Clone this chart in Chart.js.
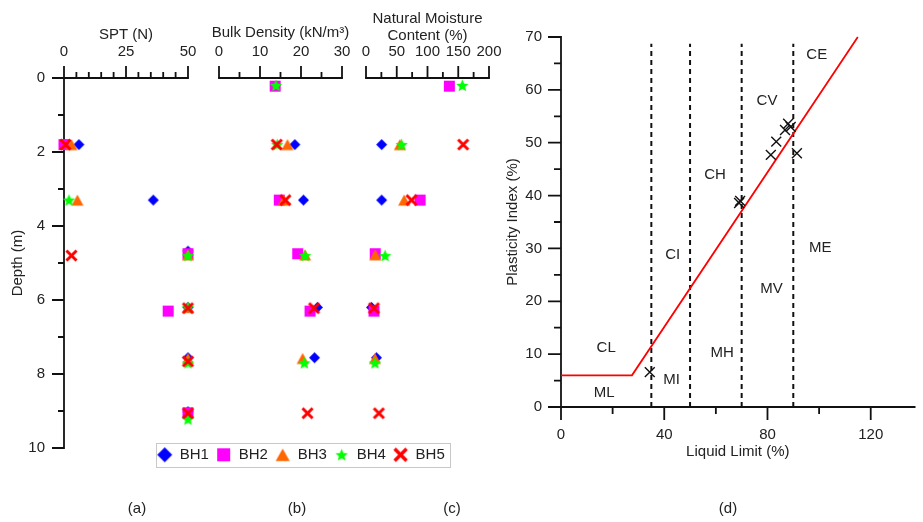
<!DOCTYPE html>
<html><head><meta charset="utf-8">
<script src="https://cdn.jsdelivr.net/npm/chart.js@4.4.1/dist/chart.umd.min.js"></script>
<style>
html,body{margin:0;padding:0;background:#fff;}
#wrap{position:relative;width:923px;height:522px;overflow:hidden;font-family:"Liberation Sans",Arial,sans-serif;background:#fff;}
#wrap canvas.full{position:absolute;left:0;top:0;}
.plab{position:absolute;top:498px;font-size:15px;color:#222;width:40px;text-align:center;line-height:20px;}
</style></head>
<body><div id="wrap">
<canvas id="ca" class="full" width="923" height="522"></canvas>
<canvas id="cb" class="full" width="923" height="522"></canvas>
<canvas id="cc" class="full" width="923" height="522"></canvas>
<canvas id="cd" class="full" width="923" height="522"></canvas>
<canvas id="cl" width="310" height="64" style="position:absolute;left:146px;top:440px;"></canvas>
<div class="plab" style="left:117px">(a)</div>
<div class="plab" style="left:277px">(b)</div>
<div class="plab" style="left:432px">(c)</div>
<div class="plab" style="left:708px">(d)</div>
</div>
<script>
// ---------------- DATA ----------------
const boreholes = ['BH1', 'BH2', 'BH3', 'BH4', 'BH5'];

const depthBH1 = [1.8, 3.3, 4.68, 6.2, 7.56, 9.02];
const sptBH1 = [6, 36, 50, 50, 50, 50];
const densityBH1 = [18.5, 20.6, null, 24.0, 23.3, null];
const moistureBH1 = [25.5, 25.5, null, 9, 17, null];

const depthBH2 = [0.22, 1.8, 3.3, 4.75, 6.3, 9.05];
const sptBH2 = [null, 0, null, 50, 42, 50];
const densityBH2 = [13.7, null, 14.7, 19.2, 22.2, null];
const moistureBH2 = [135.5, null, 88, 15, 13, null];

const depthBH3 = [1.8, 3.3, 4.78, 6.2, 7.58];
const sptBH3 = [3, 5.4, 50, 50, 50];
const densityBH3 = [16.7, 15.8, 21, null, 20.4];
const moistureBH3 = [55, 62, 15, null, 14.6];

const depthBH4 = [0.2, 1.8, 3.3, 4.8, 6.2, 7.7, 9.22];
const sptBH4 = [null, null, 2, 50, 50, 50, 50];
const densityBH4 = [13.9, 14.2, null, 21, null, 20.8, null];
const moistureBH4 = [156.6, 58, null, 31, null, 14.6, null];

const depthBH5 = [1.8, 3.3, 4.8, 6.22, 7.66, 9.06];
const sptBH5 = [0.6, null, 3, 50, 50, 50];
const densityBH5 = [14.1, 16.2, null, 23.2, null, 21.6];
const moistureBH5 = [158, 74, null, 13, null, 21];

const liquidLimit = [34.4, 69.0, 69.4, 81.3, 83.4, 86.8, 88.0, 89.0, 91.4];
const plasticityIndex = [6.6, 38.6, 39.0, 47.7, 50.2, 52.4, 53.6, 53.0, 48.0];

const aLineLL = [0, 27.5, 115];
const aLinePI = [6, 6, 70];
const zoneBoundsLL = [35, 50, 70, 90];
const zoneBoundTopPI = 68.7;

const zoneNames = ['CL', 'ML', 'MI', 'CI', 'CH', 'MH', 'CV', 'MV', 'CE', 'ME'];
const zoneNameLL = [17.5, 16.7, 42.8, 43.3, 59.7, 62.4, 79.8, 81.6, 99.1, 100.4];
const zoneNamePI = [11.1, 2.6, 5.2, 28.7, 43.9, 10.2, 57.9, 22.3, 66.7, 30.1];

// ---------------- STYLE ----------------
const FONT = '"Liberation Sans", Arial, sans-serif';
Chart.defaults.font.family = FONT;
Chart.defaults.font.size = 15;
Chart.defaults.color = '#222';

const bhColors = ['#0000FF', '#FF00FF', '#FF6600', '#00FF00', '#FF0000'];
const bhShapes = ['diamond', 'square', 'triangle', 'star', 'cross'];
const plotSizes = [11, 11, 12, 13, 11];
const legendSizes = [15, 13, 14, 13, 13];

function makeMarker(shape, color, size) {
  const pad = 3;
  const dim = Math.ceil(size + pad * 2);
  const c = document.createElement('canvas');
  c.width = dim; c.height = dim;
  const g = c.getContext('2d');
  const cx = dim / 2, cy = dim / 2, r = size / 2;
  g.fillStyle = color; g.strokeStyle = color;
  g.beginPath();
  if (shape === 'diamond') {
    g.moveTo(cx, cy - r); g.lineTo(cx + r, cy); g.lineTo(cx, cy + r); g.lineTo(cx - r, cy); g.closePath(); g.fill();
  } else if (shape === 'square') {
    g.fillRect(cx - r, cy - r, size, size);
  } else if (shape === 'triangle') {
    const h = size * 0.9;
    g.moveTo(cx, cy - h / 2); g.lineTo(cx + r, cy + h / 2); g.lineTo(cx - r, cy + h / 2); g.closePath(); g.fill();
  } else if (shape === 'star') {
    const ri = r * 0.45;
    for (let i = 0; i < 10; i++) {
      const rad = (i % 2 === 0) ? r : ri;
      const ang = -Math.PI / 2 + i * Math.PI / 5;
      const px = cx + rad * Math.cos(ang), py = cy + 0.5 + rad * Math.sin(ang);
      if (i === 0) g.moveTo(px, py); else g.lineTo(px, py);
    }
    g.closePath(); g.fill();
  } else if (shape === 'cross') {
    g.lineWidth = size * 0.27;
    g.lineCap = 'butt';
    const q = r * 0.92;
    g.moveTo(cx - q, cy - q); g.lineTo(cx + q, cy + q);
    g.moveTo(cx + q, cy - q); g.lineTo(cx - q, cy + q);
    g.stroke();
  }
  return c;
}
const plotMarkers = bhShapes.map((s, i) => makeMarker(s, bhColors[i], plotSizes[i]));
const legendMarkers = bhShapes.map((s, i) => makeMarker(s, bhColors[i], legendSizes[i]));

const depthSets = [depthBH1, depthBH2, depthBH3, depthBH4, depthBH5];
const sptSets = [sptBH1, sptBH2, sptBH3, sptBH4, sptBH5];
const densitySets = [densityBH1, densityBH2, densityBH3, densityBH4, densityBH5];
const moistureSets = [moistureBH1, moistureBH2, moistureBH3, moistureBH4, moistureBH5];

function depthDatasets(valueSets) {
  return boreholes.map((name, i) => ({
    label: name,
    data: depthSets[i].map((d, k) => ({ x: valueSets[i][k], y: d })).filter(p => p.x !== null),
    pointStyle: plotMarkers[i],
    backgroundColor: bhColors[i],
    borderColor: bhColors[i],
    clip: false,
    order: 4 - i
  }));
}

// draws axis lines and major/minor tick marks using the chart scales
const axisPlugin = {
  id: 'axisDraw',
  beforeDatasetsDraw(chart, args, opts) {
    const ctx = chart.ctx, a = chart.chartArea;
    ctx.save();
    ctx.strokeStyle = '#111';
    ctx.lineWidth = 1.8;
    for (const key of ['x', 'y']) {
      const o = opts[key];
      if (!o) continue;
      const s = chart.scales[key];
      const horiz = key === 'x';
      const base = horiz ? (o.side === 'top' ? a.top : a.bottom) : a.left;
      ctx.beginPath();
      const p0 = s.getPixelForValue(o.from), p1 = s.getPixelForValue(o.to);
      if (horiz) { ctx.moveTo(Math.min(p0, p1) - 0.9, base); ctx.lineTo(Math.max(p0, p1) + 0.9, base); }
      else { ctx.moveTo(base, Math.min(p0, p1) - 0.9); ctx.lineTo(base, Math.max(p0, p1) + 0.9); }
      ctx.stroke();
      const n = Math.floor((o.to - o.from) / o.minor + 1e-9);
      ctx.beginPath();
      for (let i = 0; i <= n; i++) {
        const v = o.from + i * o.minor;
        const q = v / o.major;
        const len = Math.abs(q - Math.round(q)) < 1e-6 ? o.majorLen : o.minorLen;
        const p = s.getPixelForValue(v);
        if (horiz) {
          const dir = o.side === 'top' ? -1 : 1;
          ctx.moveTo(p, base); ctx.lineTo(p, base + dir * len);
        } else {
          ctx.moveTo(base, p); ctx.lineTo(base - len, p);
        }
      }
      ctx.stroke();
    }
    if (opts.title) {
      ctx.font = '15px ' + FONT;
      ctx.fillStyle = '#222';
      ctx.textAlign = 'center';
      ctx.textBaseline = 'middle';
      ctx.fillText(opts.title, (a.left + a.right) / 2, opts.titleY);
    }
    ctx.restore();
  }
};

function depthChart(id, valueSets, xOpts, pad, showY) {
  return new Chart(document.getElementById(id), {
    type: 'scatter',
    data: { datasets: depthDatasets(valueSets) },
    options: {
      responsive: false, animation: false, devicePixelRatio: 1, events: [],
      layout: { padding: pad },
      plugins: {
        legend: { display: false }, tooltip: { enabled: false },
        axisDraw: {
          x: { side: 'top', from: xOpts.min, to: xOpts.max, minor: xOpts.minor, major: xOpts.major, majorLen: 12, minorLen: 6 },
          y: showY ? { from: 0, to: 10, minor: 1, major: 2, majorLen: 12, minorLen: 6 } : null,
          title: xOpts.freeTitle || null, titleY: 33
        }
      },
      scales: {
        x: {
          type: 'linear', position: 'top', min: xOpts.min, max: xOpts.max,
          grid: { display: false, drawTicks: true, tickLength: 12 },
          border: { display: false },
          ticks: { stepSize: xOpts.major, padding: 5, maxRotation: 0, autoSkip: false, color: '#222', font: { size: 15 } },
          title: { display: !!xOpts.title, text: xOpts.title || '', padding: 0, color: '#222', font: { size: 15, lineHeight: xOpts.lh || 1.2 } },
          afterFit: s => { s.height = xOpts.h; }
        },
        y: {
          type: 'linear', position: 'left', reverse: true, min: 0, max: 10,
          display: showY,
          grid: { display: false, drawTicks: true, tickLength: 12 },
          border: { display: false },
          ticks: { stepSize: 2, padding: 7, color: '#222', font: { size: 15 } },
          title: { display: true, text: 'Depth (m)', padding: 0, color: '#222', font: { size: 15 } },
          afterFit: s => { s.width = showY ? 55 : 0; }
        }
      }
    },
    plugins: [axisPlugin]
  });
}

// (a) SPT
depthChart('ca', sptSets,
  { min: 0, max: 50, minor: 5, major: 25, title: 'SPT (N)', h: 52 },
  { left: 9, top: 26, right: 735, bottom: 74 }, true);
// (b) Bulk density (title drawn free so it is not squeezed to the axis width)
depthChart('cb', densitySets,
  { min: 0, max: 30, minor: 5, major: 10, freeTitle: 'Bulk Density (kN/m³)', h: 54 },
  { left: 219, top: 24, right: 581, bottom: 74 }, false);
// (c) Natural moisture content
depthChart('cc', moistureSets,
  { min: 0, max: 200, minor: 25, major: 50, title: ['Natural Moisture', 'Content (%)'], h: 67.5, lh: 1.12 },
  { left: 366, top: 10.5, right: 434, bottom: 74 }, false);

// (d) plasticity chart
const zoneLabelPlugin = {
  id: 'zoneLabels',
  afterDatasetsDraw(chart) {
    const ctx = chart.ctx, xs = chart.scales.x, ys = chart.scales.y;
    ctx.save();
    ctx.font = '15px ' + FONT;
    ctx.fillStyle = '#222';
    ctx.textAlign = 'center';
    ctx.textBaseline = 'middle';
    zoneNames.forEach((t, i) => ctx.fillText(t, xs.getPixelForValue(zoneNameLL[i]), ys.getPixelForValue(zoneNamePI[i])));
    ctx.restore();
  }
};

const dDatasets = [
  {
    label: 'Samples',
    data: liquidLimit.map((v, i) => ({ x: v, y: plasticityIndex[i] })),
    pointStyle: 'crossRot', pointRadius: 7, borderColor: '#111', backgroundColor: '#111', pointBorderWidth: 1.4, clip: false, order: 0
  },
  {
    label: 'A-line',
    data: aLineLL.map((v, i) => ({ x: v, y: aLinePI[i] })),
    showLine: true, borderColor: '#FF0000', borderWidth: 1.8, pointRadius: 0, clip: false, order: 1
  }
].concat(zoneBoundsLL.map(v => ({
  label: 'LL ' + v,
  data: [{ x: v, y: 0 }, { x: v, y: zoneBoundTopPI }],
  showLine: true, borderColor: '#111', borderWidth: 2, borderDash: [5, 4], pointRadius: 0, order: 2
})));

new Chart(document.getElementById('cd'), {
  type: 'scatter',
  data: { datasets: dDatasets },
  options: {
    responsive: false, animation: false, devicePixelRatio: 1, events: [],
    layout: { padding: { left: 504, top: 37, right: 1, bottom: 61 } },
    plugins: {
      legend: { display: false }, tooltip: { enabled: false },
      axisDraw: {
        x: { side: 'bottom', from: 0, to: 137, minor: 20, major: 40, majorLen: 13, minorLen: 7 },
        y: { from: 0, to: 70, minor: 5, major: 10, majorLen: 13, minorLen: 7 }
      }
    },
    scales: {
      x: {
        type: 'linear', position: 'bottom', min: 0, max: 137,
        grid: { display: false, drawTicks: true, tickLength: 13 },
        border: { display: false },
        ticks: { stepSize: 40, padding: 6, maxRotation: 0, autoSkip: false, color: '#222', font: { size: 15 },
          callback: v => (Math.abs(v % 40) < 1e-6 ? String(v) : '') },
        title: { display: true, text: 'Liquid Limit (%)', padding: 0, color: '#222', font: { size: 15 } },
        afterFit: s => { s.height = 54; }
      },
      y: {
        type: 'linear', position: 'left', min: 0, max: 70,
        grid: { display: false, drawTicks: true, tickLength: 13 },
        border: { display: false },
        ticks: { stepSize: 10, padding: 6, color: '#222', font: { size: 15 } },
        title: { display: true, text: 'Plasticity Index (%)', padding: 0, color: '#222', font: { size: 15 } },
        afterFit: s => { s.width = 57; }
      }
    }
  },
  plugins: [axisPlugin, zoneLabelPlugin]
});

// legend for (a)-(c)
const legendBoxPlugin = {
  id: 'legendBox',
  afterDraw(chart) {
    const hb = chart.legend && chart.legend.legendHitBoxes;
    if (!hb || !hb.length) return;
    const ctx = chart.ctx;
    const first = hb[0], last = hb[hb.length - 1];
    const x0 = first.left - 1.5, x1 = last.left + last.width + 5;
    const cy = first.top + first.height / 2;
    ctx.save();
    ctx.strokeStyle = '#c8c8c8';
    ctx.lineWidth = 1;
    ctx.strokeRect(Math.round(x0) + 0.5, Math.round(cy - 12) + 0.5, Math.round(x1 - x0), 24);
    ctx.restore();
  }
};

new Chart(document.getElementById('cl'), {
  type: 'scatter',
  data: { datasets: boreholes.map((name, i) => ({ label: name, data: [], pointStyle: plotMarkers[i], backgroundColor: bhColors[i], borderColor: bhColors[i] })) },
  options: {
    responsive: false, animation: false, devicePixelRatio: 1, events: [],
    layout: { padding: 0 },
    scales: { x: { display: false }, y: { display: false } },
    plugins: {
      tooltip: { enabled: false },
      legend: {
        display: true, position: 'top',
        labels: {
          usePointStyle: true, boxWidth: 15, boxHeight: 15, padding: 7.3, color: '#222', font: { size: 15 },
          generateLabels: chart => chart.data.datasets.map((ds, i) => ({
            text: ds.label, pointStyle: legendMarkers[i], fillStyle: ds.backgroundColor, strokeStyle: ds.borderColor,
            lineWidth: 0, hidden: false, datasetIndex: i, fontColor: '#222'
          }))
        }
      }
    }
  },
  plugins: [legendBoxPlugin]
});
</script>
</body></html>
